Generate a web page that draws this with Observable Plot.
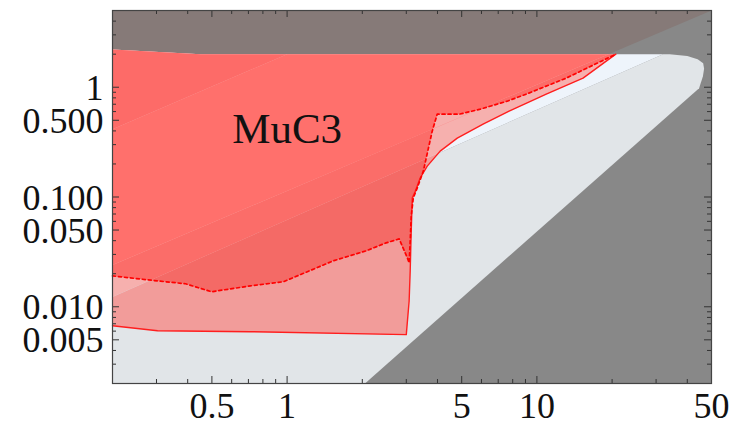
<!DOCTYPE html>
<html><head><meta charset="utf-8">
<script src="https://cdn.jsdelivr.net/npm/d3@7"></script>
<script src="https://cdn.jsdelivr.net/npm/@observablehq/plot@0.6"></script>
<style>body{margin:0;background:#fff}</style>
</head><body><div id="chart"></div>
<script>
// ---- data ----
const xDomain = [0.2, 50];
const yDomain = [0.002, 5];
const xMajor = [0.5, 1, 5, 10, 50];
const xLabels = ["0.5", "1", "5", "10", "50"];
const xMinor = [0.3, 0.4, 0.6, 0.7, 0.8, 0.9, 2, 3, 4, 6, 7, 8, 9, 20, 30, 40];
const yMajor = [0.005, 0.01, 0.05, 0.1, 0.5, 1];
const yLabels = ["0.005", "0.010", "0.050", "0.100", "0.500", "1"];
const yMinor = [0.003, 0.004, 0.006, 0.007, 0.008, 0.009, 0.02, 0.03, 0.04, 0.06, 0.07, 0.08, 0.09, 0.2, 0.3, 0.4, 0.6, 0.7, 0.8, 0.9, 2, 3, 4];

// allowed (light) region outline
const allowedX = [0.2, 0.2, 0.45, 34, 40, 44, 46.3, 46.7, 46.2, 44.6, 2.05];
const allowedY = [0.002, 2.21, 2.0, 2.0, 1.93, 1.80, 1.65, 1.47, 1.26, 0.98, 0.002];
// solid red limit
const solidX = [0.2, 0.303, 0.713, 3.0, 3.08, 3.11, 3.14, 3.17, 3.26, 3.41, 3.64, 4.10, 4.80, 6.09, 7.74, 10.9, 15.3, 20.7];
const solidY = [0.00672, 0.00605, 0.00593, 0.00557, 0.0113, 0.0212, 0.049, 0.098, 0.113, 0.149, 0.191, 0.262, 0.344, 0.461, 0.605, 0.864, 1.21, 2.0];
// dashed red limit
const dashX = [0.2, 0.303, 0.392, 0.498, 0.713, 0.966, 1.53, 2.07, 2.49, 2.81, 3.03, 3.08, 3.11, 3.14, 3.20, 3.32, 3.51, 3.81, 3.99, 4.89, 5.93, 7.6, 9.05, 13.1, 20.7];
const dashY = [0.0191, 0.0172, 0.0162, 0.0137, 0.0155, 0.0169, 0.0262, 0.0323, 0.0382, 0.0415, 0.0279, 0.0251, 0.0398, 0.0672, 0.098, 0.121, 0.172, 0.398, 0.568, 0.568, 0.631, 0.746, 0.864, 1.21, 2.0];
// top edge of the red regions
const topEdgeX = [0.45, 0.2];
const topEdgeY = [2.0, 2.21];
// faint diagonal boundaries (two points each)
const line1X = [0.2, 1.0],  line1Y = [0.415, 2.0];
const line2X = [0.2, 50],   line2Y = [0.024, 5];
const line3X = [0.2, 32],   line3Y = [0.0123, 2.0];

const labelText = ["MuC3"], labelX = [1.0], labelY = [0.415];

// ---- helpers ----
const zip = (xs, ys) => xs.map((x, i) => [x, ys[i]]);
const Lg = Math.log10;
function clip(poly, lx, ly, keepAbove) {
  const ax = Lg(lx[0]), ay = Lg(ly[0]), bx = Lg(lx[1]), by = Lg(ly[1]);
  const side = ([x, y]) => { const s = (bx - ax) * (Lg(y) - ay) - (by - ay) * (Lg(x) - ax); return keepAbove ? s : -s; };
  const out = [];
  for (let i = 0; i < poly.length; i++) {
    const p = poly[i], q = poly[(i + 1) % poly.length];
    const sp = side(p), sq = side(q);
    if (sp >= 0) out.push(p);
    if ((sp >= 0) !== (sq >= 0)) {
      const t = sp / (sp - sq);
      out.push([10 ** (Lg(p[0]) + t * (Lg(q[0]) - Lg(p[0]))), 10 ** (Lg(p[1]) + t * (Lg(q[1]) - Lg(p[1])))]);
    }
  }
  return out;
}
const closeP = p => p.length ? [...p, p[0]] : p;
const polyMark = (p, fill) => Plot.line(closeP(p), {x: d => d[0], y: d => d[1], fill, stroke: "none"});

const framePoly = zip([xDomain[0], xDomain[1], xDomain[1], xDomain[0]], [yDomain[0], yDomain[0], yDomain[1], yDomain[1]]);
const allowedPoly = zip(allowedX, allowedY);
const solidPts = zip(solidX, solidY);
const dashedPts = zip(dashX, dashY);
const topPts = zip(topEdgeX, topEdgeY);
const solidPoly = [...solidPts, ...topPts];
const dashedPoly = [...dashedPts, ...topPts];

const W = 733, H = 425, mL = 112, mR = 22, mT = 10, mB = 42;
const iH = H - mT - mB, iW = W - mL - mR;
const tickCol = "#333";
const font = "'Liberation Serif', 'DejaVu Serif', serif";

const chart = Plot.plot({
  width: W, height: H,
  marginLeft: mL, marginRight: mR, marginTop: mT, marginBottom: mB,
  style: {fontFamily: font, background: "#fff", color: "#111"},
  x: {type: "log", domain: xDomain, label: null, axis: null},
  y: {type: "log", domain: yDomain, label: null, axis: null},
  marks: [
    Plot.frame({fill: "#888888", stroke: "none"}),
    polyMark(clip(framePoly, line2X, line2Y, true), "#867a78"),
    polyMark(clip(allowedPoly, line3X, line3Y, false), "#e1e5e8"),
    polyMark(clip(allowedPoly, line3X, line3Y, true), "#eef4fb"),
    polyMark(clip(solidPoly, line3X, line3Y, false), "#f29c9a"),
    polyMark(clip(solidPoly, line3X, line3Y, true), "#f6b0ae"),
    polyMark(clip(dashedPoly, line3X, line3Y, false), "#f46a66"),
    polyMark(clip(clip(dashedPoly, line3X, line3Y, true), line2X, line2Y, false), "#fb6d69"),
    polyMark(clip(clip(dashedPoly, line2X, line2Y, true), line1X, line1Y, false), "#ff706c"),
    polyMark(clip(dashedPoly, line1X, line1Y, true), "#fd6b68"),
    Plot.line(solidPts, {x: d => d[0], y: d => d[1], stroke: "#ff1e1e", strokeWidth: 1.4}),
    Plot.line(dashedPts, {x: d => d[0], y: d => d[1], stroke: "#ff0000", strokeWidth: 1.7, strokeDasharray: "3,3"}),
    Plot.text(labelText, {x: labelX, y: labelY, text: d => d, fontSize: 43, fill: "#111", fontFamily: font}),
    // ticks, inward on all four sides
    Plot.ruleX(xMajor, {insetTop: iH - 7, stroke: tickCol}),
    Plot.ruleX(xMajor, {insetBottom: iH - 7, stroke: tickCol}),
    Plot.ruleX(xMinor, {insetTop: iH - 4, stroke: tickCol}),
    Plot.ruleX(xMinor, {insetBottom: iH - 4, stroke: tickCol}),
    Plot.ruleY(yMajor, {insetRight: iW - 7, stroke: tickCol}),
    Plot.ruleY(yMajor, {insetLeft: iW - 7, stroke: tickCol}),
    Plot.ruleY(yMinor, {insetRight: iW - 4, stroke: tickCol}),
    Plot.ruleY(yMinor, {insetLeft: iW - 4, stroke: tickCol}),
    Plot.frame({stroke: "#444", strokeWidth: 1.2}),
    // tick labels
    Plot.text(xMajor, {x: d => d, frameAnchor: "bottom", lineAnchor: "top", dy: 9, text: (d, i) => xLabels[i], fontSize: 36, fill: "#111", fontFamily: font}),
    Plot.text(yMajor, {y: d => d, frameAnchor: "left", textAnchor: "end", dx: -9, dy: 1, text: (d, i) => yLabels[i], fontSize: 36, fill: "#111", fontFamily: font})
  ]
});
document.getElementById("chart").append(chart);
</script>
</body></html>
